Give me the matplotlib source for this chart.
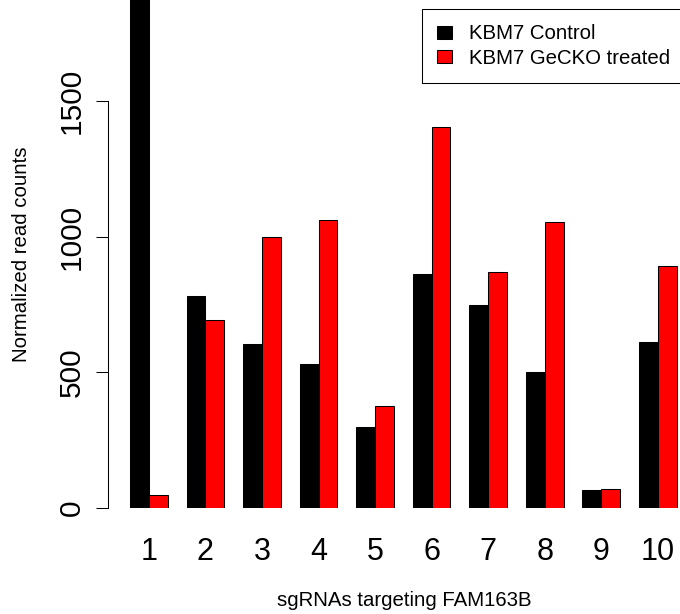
import matplotlib
matplotlib.use("Agg")
import matplotlib.pyplot as plt
import matplotlib.patches as mpatches
from matplotlib.lines import Line2D
import numpy as np

plt.rcParams['font.family'] = ['Liberation Sans', 'DejaVu Sans']

guides = ['1', '2', '3', '4', '5', '6', '7', '8', '9', '10']
control = [2100, 782, 603, 531, 296, 862, 747, 499, 66, 610]   # first bar runs off the top
treated = [46, 691, 1000, 1062, 374, 1404, 871, 1053, 69, 893]
y_ticks = [0, 500, 1000, 1500]

BLACK = '#000000'
RED = '#FF0000'

W, H, DPI = 680, 614, 100
fig = plt.figure(figsize=(W / DPI, H / DPI), dpi=DPI)

# axes placed in pixel terms, R barplot style (bar width 1, gap 1 between groups)
left_px, right_px, bottom_px = 111.15, 680, 507.5
ax = fig.add_axes([left_px / W, 1 - bottom_px / H, (right_px - left_px) / W, bottom_px / H])

x = np.arange(len(guides)) * 3 + 1
ax.bar(x, control, width=1, align='edge', color=BLACK, edgecolor=BLACK, linewidth=0.75)
ax.bar(x + 1, treated, width=1, align='edge', color=RED, edgecolor=BLACK, linewidth=0.75)

ax.set_xlim(0, (right_px - left_px) / 18.85)
ax.set_ylim(0, bottom_px / 0.2708)

for s in ['top', 'right', 'bottom']:
    ax.spines[s].set_visible(False)
ax.spines['left'].set_position(('outward', 2.1))
ax.spines['left'].set_bounds(0, 1500)
ax.spines['left'].set_linewidth(0.75)

ax.set_yticks(y_ticks)
ax.set_yticklabels([str(v) for v in y_ticks], rotation=90, va='center')
ax.tick_params(axis='y', length=8.4, width=0.75, pad=7.5, labelsize=21.5)

ax.set_xticks(x + 1)
ax.set_xticklabels(guides)
ax.tick_params(axis='x', length=0, pad=21, labelsize=22)

fig.text(22 / W, 1 - 254.7 / H, 'Normalized read counts', rotation=90,
         ha='center', va='center', fontsize=14.7)
fig.text(404 / W, 1 - 601 / H, 'sgRNAs targeting FAM163B',
         ha='center', va='center', fontsize=14.7)

# legend box runs past the right edge of the figure, as in the original:
# draw only top, left and bottom sides
box_l, box_t, box_r, box_b = 421.7, 9, 700, 82.7
fx = [box_r / W, box_l / W, box_l / W, box_r / W]
fy = [1 - box_t / H, 1 - box_t / H, 1 - box_b / H, 1 - box_b / H]
fig.add_artist(Line2D(fx, fy, transform=fig.transFigure, color=BLACK, linewidth=0.75))

handles = [mpatches.Patch(facecolor=BLACK, edgecolor=BLACK, linewidth=0.75, label='KBM7 Control'),
           mpatches.Patch(facecolor=RED, edgecolor=BLACK, linewidth=0.75, label='KBM7 GeCKO treated')]
fig.legend(handles=handles, loc='upper left', bbox_to_anchor=(box_l / W, 1 - box_t / H),
           fontsize=14.7, frameon=False, borderaxespad=0, borderpad=0.75,
           handlelength=0.74, handleheight=0.61, handletextpad=0.85, labelspacing=0.28)

fig.savefig('out.png', dpi=DPI)
